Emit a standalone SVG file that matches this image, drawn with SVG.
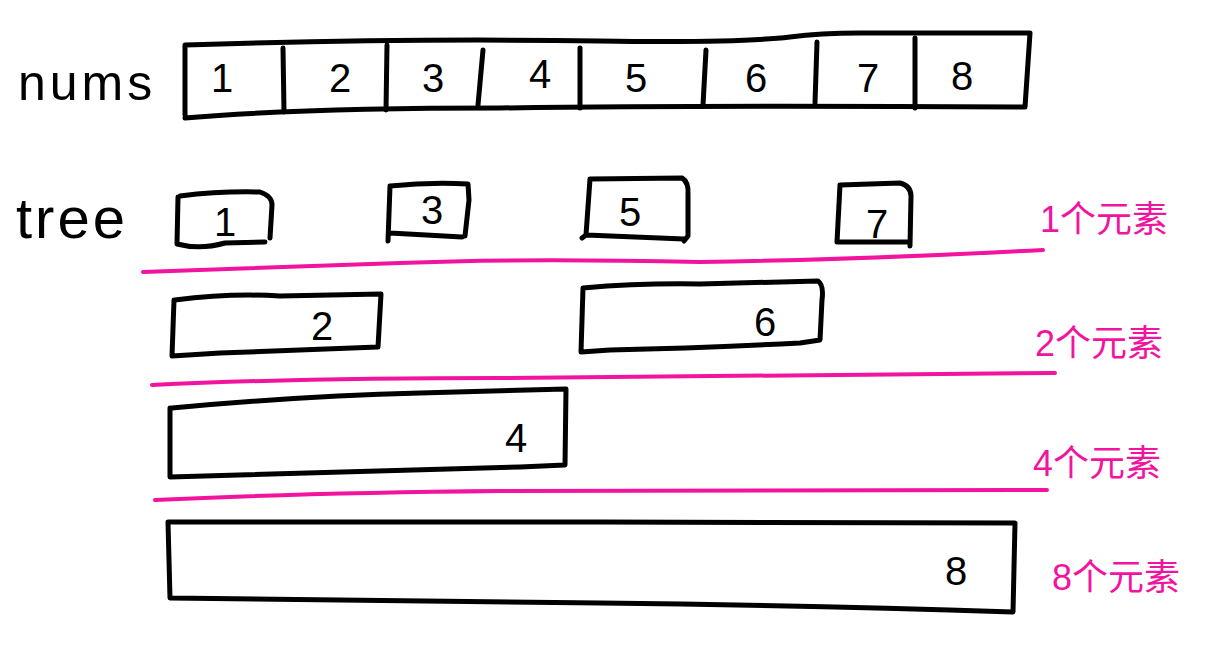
<svg xmlns="http://www.w3.org/2000/svg" width="1228" height="654" viewBox="0 0 1228 654">
<style>
.ink{fill:none;stroke:#000;stroke-width:5;stroke-linecap:round;stroke-linejoin:round}
.pk{fill:none;stroke:#f2139f;stroke-width:4;stroke-linecap:round}
.lbl{font-family:"Liberation Sans","DejaVu Sans",sans-serif;fill:#000}
.num{font-family:"Liberation Sans","DejaVu Sans",sans-serif;font-size:40px;fill:#000;text-anchor:middle}
.cnt{font-family:"Liberation Sans","Noto Sans CJK SC",sans-serif;font-size:36px;fill:#f2139f}
</style>
<rect width="1228" height="654" fill="#fff"/>
<g id="nums">
<text class="lbl" x="18" y="100" font-size="50" letter-spacing="4">nums</text>
<path class="ink" d="M185 45 Q400 38 600 41 Q740 43 790 37 Q820 33 860 33 L1030 33 L1025 107 Q700 105 500 108 Q300 108 185 118 M185 45 L185 115"/>
<path class="ink" d="M283 48 L284 112 M387 45 L386 110 M483 50 L478 105 M580 48 L580 108 M706 50 L703 105 M817 42 L815 103 M915 38 L915 108"/>
<text class="num" x="222" y="92">1</text>
<text class="num" x="340" y="92">2</text>
<text class="num" x="433" y="92">3</text>
<text class="num" x="540" y="88">4</text>
<text class="num" x="636" y="92">5</text>
<text class="num" x="756" y="92">6</text>
<text class="num" x="868" y="92">7</text>
<text class="num" x="962" y="90">8</text>
</g>
<g id="tree-label"><text class="lbl" x="16" y="238" font-size="58" letter-spacing="3">tree</text></g>
<g id="t1"><path class="ink" d="M180 196 Q220 191 260 192 Q272 196 272 205 L270 238 M178 197 L177 244 Q200 250 225 243 L265 242"/><text class="num" x="225" y="236">1</text></g>
<g id="t3"><path class="ink" d="M390 186 Q430 182 468 184 L469 200 L465 236 M390 186 L388 241 M390 233 L462 237"/><text class="num" x="432" y="224">3</text></g>
<g id="t5"><path class="ink" d="M590 179 L682 178 Q689 182 688 195 L688 236 L684 241 M590 179 L586 235 L582 238 M586 235 L684 239"/><text class="num" x="630" y="226">5</text></g>
<g id="t7"><path class="ink" d="M840 185 L900 183 Q911 186 911 196 L910 246 M840 185 L837 242 L910 242"/><text class="num" x="877" y="238">7</text></g>
<g id="t2"><path class="ink" d="M175 300 Q230 293 280 296 L381 294 L378 347 Q300 350 220 353 L172 356 L174 300"/><text class="num" x="322" y="340">2</text></g>
<g id="t6"><path class="ink" d="M583 288 Q640 283 700 284 L818 281 Q824 285 822 300 L820 340 L800 343 Q700 348 610 350 L581 352 L583 288"/><text class="num" x="765" y="336">6</text></g>
<g id="t4"><path class="ink" d="M172 408 Q300 396 420 393 L566 389 L565 465 L520 467 Q350 472 170 477 L170 408"/><text class="num" x="516" y="452" font-size="52">4</text></g>
<g id="t8"><path class="ink" d="M168 522 Q400 522 600 522 L1015 523 L1013 612 Q800 605 600 603 L170 598 L168 522"/><text class="num" x="956" y="585" font-size="52">8</text></g>
<g id="dividers">
<path class="pk" d="M143 272 Q250 268 400 263 Q520 258 700 262 Q850 260 1043 250"/>
<path class="pk" d="M152 385 Q300 378 500 378 Q800 375 1055 373"/>
<path class="pk" d="M155 500 Q300 493 500 491 Q800 491 1047 490"/>
</g>
<g id="counts">
<text class="cnt" x="1040" y="232">1个元素</text>
<text class="cnt" x="1035" y="356">2个元素</text>
<text class="cnt" x="1033" y="476">4个元素</text>
<text class="cnt" x="1052" y="590">8个元素</text>
</g>
</svg>
